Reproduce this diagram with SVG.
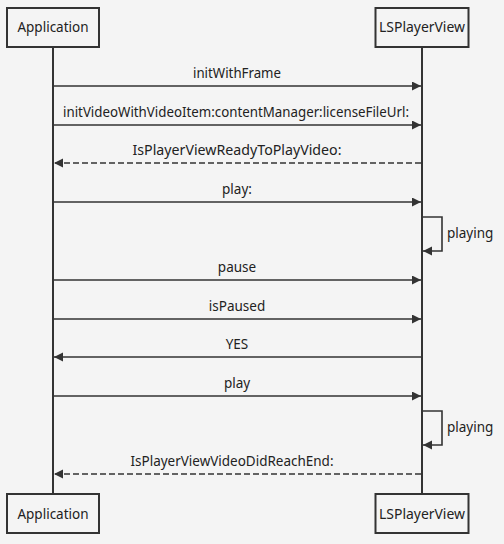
<svg xmlns="http://www.w3.org/2000/svg" width="504" height="544" viewBox="0 0 504 544">
<defs>
<marker id="ah" markerUnits="userSpaceOnUse" markerWidth="10" markerHeight="10" refX="9" refY="4.5" orient="auto">
<path d="M0,0 L9,4.5 L0,9 Z" fill="#333"/>
</marker>
<style>
.box{fill:#f4f4f4;stroke:#333;stroke-width:2}
.life{stroke:#333;stroke-width:2;fill:none}
.msg{stroke:#333;stroke-width:1.6;fill:none;marker-end:url(#ah)}
.dash{stroke-dasharray:6,3}
text{font-family:"Noto Sans","Open Sans","Liberation Sans",sans-serif;font-size:13.5px;fill:#222}
.c{text-anchor:middle}
</style>
</defs>
<rect width="504" height="544" fill="#f4f4f4"/>
<g id="lifelines">
<line class="life" x1="53" y1="47" x2="53" y2="494"/>
<line class="life" x1="422" y1="47" x2="422" y2="494"/>
</g>
<g id="Application-top"><rect class="box" x="7" y="8" width="92" height="39"/><text class="c" x="53" y="32">Application</text></g>
<g id="LSPlayerView-top"><rect class="box" x="375.5" y="8" width="93" height="39"/><text class="c" x="422" y="32" textLength="86" lengthAdjust="spacingAndGlyphs">LSPlayerView</text></g>
<g id="Application-bottom"><rect class="box" x="7" y="494" width="92" height="39"/><text class="c" x="53" y="519">Application</text></g>
<g id="LSPlayerView-bottom"><rect class="box" x="375.5" y="494" width="93" height="39"/><text class="c" x="422" y="519" textLength="86" lengthAdjust="spacingAndGlyphs">LSPlayerView</text></g>
<g id="connectors">
<line class="msg" x1="54" y1="86" x2="421" y2="86"/>
<text class="c" x="237" y="78" textLength="88" lengthAdjust="spacingAndGlyphs">initWithFrame</text>
<line class="msg" x1="54" y1="125" x2="421" y2="125"/>
<text class="c" x="236" y="117" textLength="346" lengthAdjust="spacingAndGlyphs">initVideoWithVideoItem:contentManager:licenseFileUrl:</text>
<line class="msg dash" x1="421" y1="163" x2="54" y2="163"/>
<text class="c" x="237" y="155" textLength="209" lengthAdjust="spacingAndGlyphs">IsPlayerViewReadyToPlayVideo:</text>
<line class="msg" x1="54" y1="202" x2="421" y2="202"/>
<text class="c" x="237" y="194">play:</text>
<path class="msg" d="M423,217 H442 V251 H423"/>
<text x="447" y="238">playing</text>
<line class="msg" x1="54" y1="280" x2="421" y2="280"/>
<text class="c" x="237" y="272">pause</text>
<line class="msg" x1="54" y1="319" x2="421" y2="319"/>
<text class="c" x="237" y="311">isPaused</text>
<line class="msg" x1="421" y1="357" x2="54" y2="357"/>
<text class="c" x="237" y="349">YES</text>
<line class="msg" x1="54" y1="396" x2="421" y2="396"/>
<text class="c" x="237" y="388">play</text>
<path class="msg" d="M423,411 H442 V445 H423"/>
<text x="447" y="432">playing</text>
<line class="msg dash" x1="421" y1="474" x2="54" y2="474"/>
<text class="c" x="232" y="466" textLength="203" lengthAdjust="spacingAndGlyphs">IsPlayerViewVideoDidReachEnd:</text>
</g>
</svg>
